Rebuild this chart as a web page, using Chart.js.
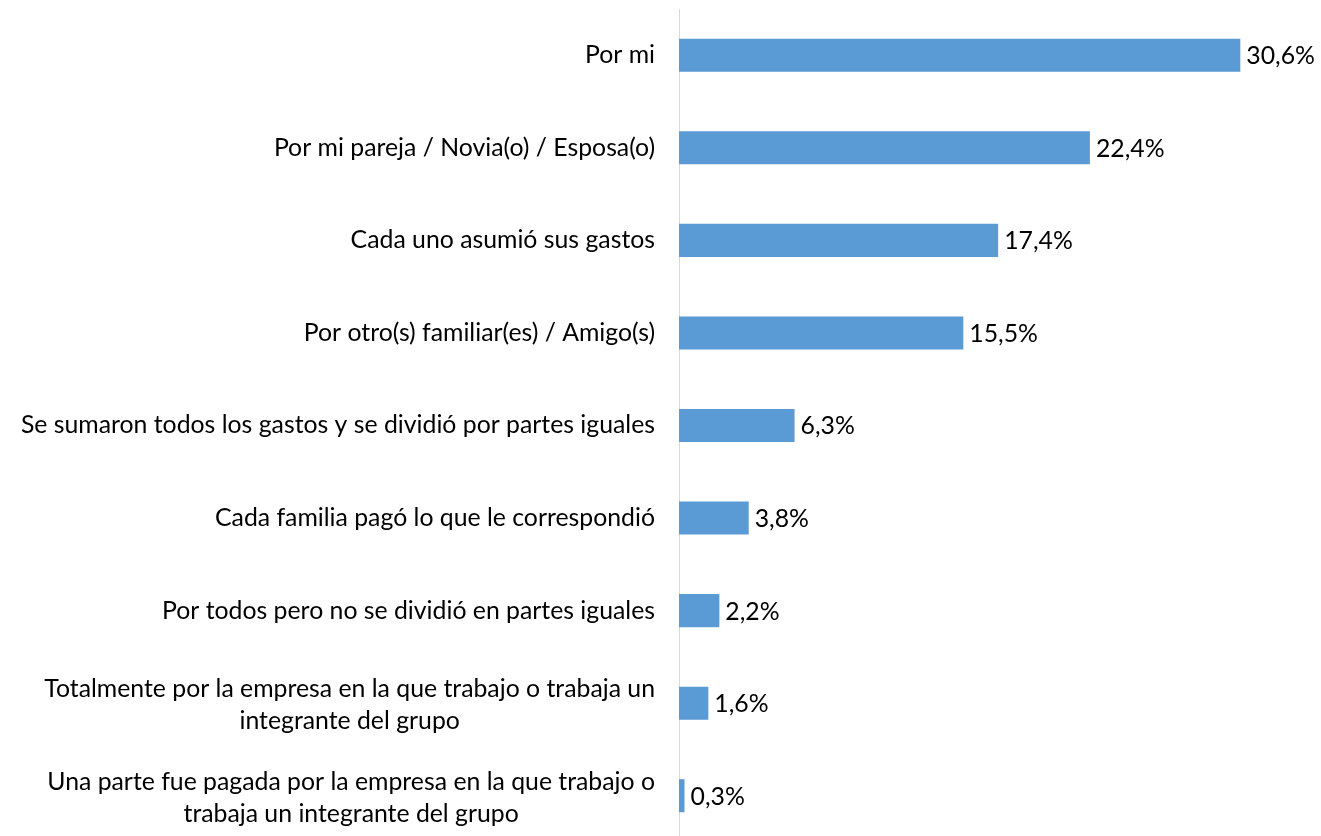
<!DOCTYPE html>
<html>
<head>
<meta charset="utf-8">
<script src="https://cdn.jsdelivr.net/npm/chart.js@4"></script>
<style>
  html, body { margin: 0; padding: 0; background: #fff; overflow: hidden; }
  .box { width: 1321px; height: 842px; position: relative; }
</style>
</head>
<body>
<div class="box"><canvas id="myChart"></canvas></div>
<script>
// categories (multi-line ones split into lines)
const categories = [
  ["Por mi"],
  ["Por mi pareja / Novia(o) / Esposa(o)"],
  ["Cada uno asumió sus gastos"],
  ["Por otro(s) familiar(es) / Amigo(s)"],
  ["Se sumaron todos los gastos y se dividió por partes iguales"],
  ["Cada familia pagó lo que le correspondió"],
  ["Por todos pero no se dividió en partes iguales"],
  ["Totalmente por la empresa en la que trabajo o trabaja un", "integrante del grupo"],
  ["Una parte fue pagada por la empresa en la que trabajo o", "trabaja un integrante del grupo"]
];
const values = [30.6, 22.4, 17.4, 15.5, 6.3, 3.8, 2.2, 1.6, 0.3];

const labelFont = '24.8px Lato';

// y labels: right edge fixed, each line centered on the block
const catLabels = {
  id: 'catLabels',
  afterDraw(chart) {
    const c = chart.ctx;
    const y = chart.scales.y;
    const right = chart.chartArea.left - 24;
    const lh = 32;
    c.save();
    c.font = labelFont;
    c.fillStyle = '#000';
    c.textAlign = 'center';
    c.textBaseline = 'middle';
    categories.forEach((lines, i) => {
      const w = Math.max(...lines.map(l => c.measureText(l).width));
      const cx = right - w / 2;
      const cy = y.getPixelForTick(i);
      const y0 = cy - (lines.length - 1) * lh / 2 + (lines.length - 1) * 2;
      lines.forEach((l, k) => c.fillText(l, cx, y0 + k * lh));
    });
    c.restore();
  }
};

// value labels at end of bars
const valueLabels = {
  id: 'valueLabels',
  afterDatasetsDraw(chart) {
    const c = chart.ctx;
    const meta = chart.getDatasetMeta(0);
    c.save();
    c.font = labelFont;
    c.fillStyle = '#000';
    c.textAlign = 'left';
    c.textBaseline = 'middle';
    meta.data.forEach((bar, i) => {
      c.fillText(values[i].toFixed(1).replace('.', ',') + '%', bar.x + 6, bar.y + 1);
    });
    c.restore();
  }
};

const ctx = document.getElementById('myChart');
new Chart(ctx, {
  type: 'bar',
  data: {
    labels: categories.map(l => l.join(' ')),
    datasets: [{
      data: values,
      backgroundColor: '#5B9BD5',
      borderWidth: 0,
      barPercentage: 0.357,
      categoryPercentage: 1
    }]
  },
  options: {
    indexAxis: 'y',
    responsive: true,
    maintainAspectRatio: false,
    animation: false,
    layout: { padding: { top: 9, right: 55, bottom: 0, left: 0 } },
    plugins: { legend: { display: false }, tooltip: { enabled: false } },
    scales: {
      x: { display: false, min: 0, max: 32 },
      y: {
        grid: { display: false },
        border: { display: true, color: '#D9D9D9', width: 1 },
        ticks: { display: false },
        afterFit(scale) { scale.width = 679; }
      }
    }
  },
  plugins: [catLabels, valueLabels]
});
</script>
</body>
</html>
